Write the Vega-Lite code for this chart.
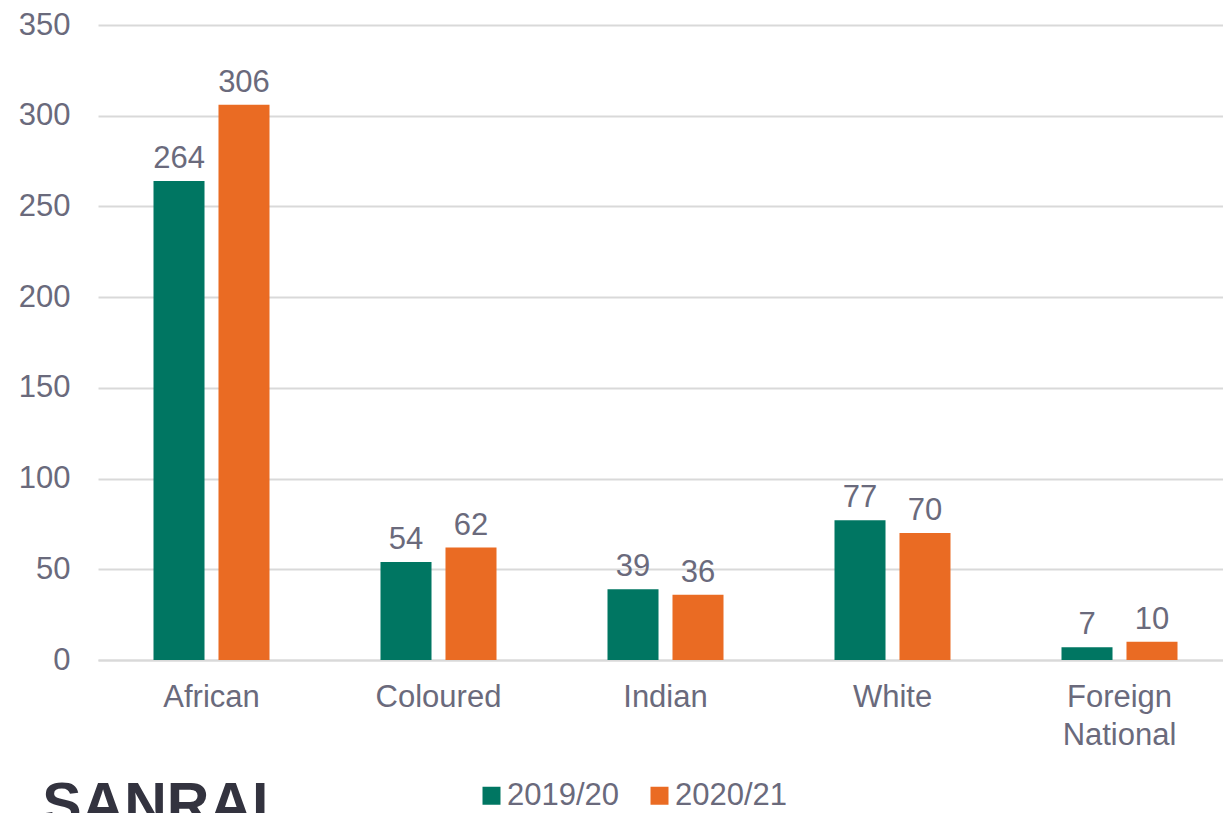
{
  "$schema": "https://vega.github.io/schema/vega-lite/v6.json",
  "width": 1135,
  "height": 635,
  "autosize": {"type": "none"},
  "padding": {"left": 98, "top": 25, "right": 0, "bottom": 153},
  "background": "#ffffff",
  "config": {
    "view": {"stroke": null},
    "font": "Liberation Sans",
    "text": {"font": "Liberation Sans"}
  },
  "title": {
    "text": "SANRAL",
    "orient": "bottom",
    "anchor": "start",
    "font": "Liberation Sans",
    "fontSize": 59,
    "fontWeight": "bold",
    "color": "#33333f",
    "baseline": "top",
    "dx": 24,
    "dy": -44,
    "offset": 10
  },
  "data": {
    "values": [
      {"group": "African", "year": "2019/20", "count": 264},
      {"group": "African", "year": "2020/21", "count": 306},
      {"group": "Coloured", "year": "2019/20", "count": 54},
      {"group": "Coloured", "year": "2020/21", "count": 62},
      {"group": "Indian", "year": "2019/20", "count": 39},
      {"group": "Indian", "year": "2020/21", "count": 36},
      {"group": "White", "year": "2019/20", "count": 77},
      {"group": "White", "year": "2020/21", "count": 70},
      {"group": "Foreign National", "year": "2019/20", "count": 7},
      {"group": "Foreign National", "year": "2020/21", "count": 10}
    ]
  },
  "encoding": {
    "x": {
      "field": "group",
      "type": "nominal",
      "sort": null,
      "scale": {"paddingInner": 0, "paddingOuter": 0},
      "axis": {
        "title": null,
        "labelAngle": 0,
        "labelFontSize": 31,
        "labelColor": "#6a6a7c",
        "labelFont": "Liberation Sans",
        "labelPadding": 22,
        "labelLineHeight": 38,
        "labelExpr": "datum.value == 'Foreign National' ? ['Foreign', 'National'] : datum.value",
        "ticks": false,
        "domainColor": "#d9d9d9",
        "domainWidth": 2,
        "grid": false
      }
    },
    "xOffset": {
      "field": "year",
      "type": "nominal",
      "scale": {"paddingInner": 0.215, "paddingOuter": 0.854}
    },
    "y": {
      "field": "count",
      "type": "quantitative",
      "scale": {"domain": [0, 350]},
      "axis": {
        "title": null,
        "values": [0, 50, 100, 150, 200, 250, 300, 350],
        "labelFontSize": 31,
        "labelColor": "#6a6a7c",
        "labelFont": "Liberation Sans",
        "labelPadding": 28,
        "ticks": false,
        "domain": false,
        "gridColor": "#d9d9d9",
        "gridWidth": 2
      }
    }
  },
  "layer": [
    {
      "mark": {"type": "bar"},
      "encoding": {
        "color": {
          "field": "year",
          "type": "nominal",
          "scale": {"domain": ["2019/20", "2020/21"], "range": ["#007662", "#ea6b23"]},
          "legend": {
            "title": null,
            "orient": "none",
            "legendX": 378,
            "legendY": 755,
            "direction": "horizontal",
            "symbolType": "square",
            "symbolSize": 324,
            "symbolStrokeWidth": 0,
            "labelFontSize": 31,
            "labelColor": "#6a6a7c",
            "labelFont": "Liberation Sans",
            "labelOffset": 0,
            "columnPadding": 24
          }
        }
      }
    },
    {
      "mark": {
        "type": "text",
        "baseline": "alphabetic",
        "dy": -13,
        "fontSize": 31,
        "font": "Liberation Sans",
        "color": "#6a6a7c"
      },
      "encoding": {
        "text": {"field": "count", "type": "quantitative"}
      }
    }
  ]
}
